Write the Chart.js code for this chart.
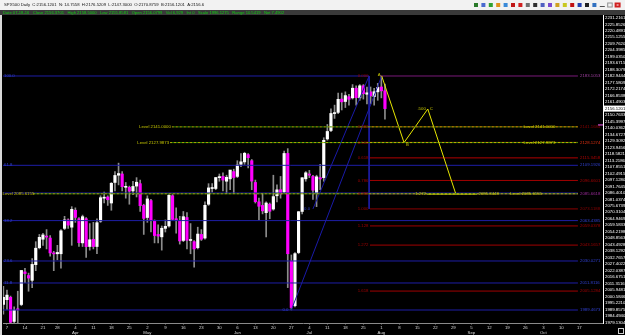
<!DOCTYPE html>
<html>
<head>
<meta charset="utf-8">
<script src="https://cdn.jsdelivr.net/npm/chart.js@4.4.1/dist/chart.umd.min.js"></script>
<style>
  html, body { margin: 0; padding: 0; background: #000; }
  #wrap { width: 625px; height: 335px; }
</style>
</head>
<body>
<div id="wrap"><canvas id="chart" width="625" height="335"></canvas></div>
<script>
// bar index 0 = Mon 7 Mar 2016, first bar (Fri 4 Mar) sits at -1
const firstBar = -1;
const opens = [1994,1998,2000,1980,1990,1994,2021,2018,2014,2027,2041,2048,2050,2049,2036,2036,2036,2057,2064,2058,
  2072,2065,2045,2065,2042,2048,2042,2063,2082,2083,2078,2095,2101,2102,2091,2091,2088,2092,2094,2076,
  2066,2080,2063,2052,2050,2057,2059,2084,2065,2063,2047,2066,2047,2046,2041,2052,2049,2077,2090,2090,
  2099,2100,2096,2098,2104,2100,2110,2112,2118,2113,2095,2079,2076,2070,2077,2073,2084,2089,2087,2119,
  2030,1993,2037,2071,2098,2102,2100,2086,2099,2099,2131,2138,2152,2153,2164,2162,2166,2165,2173,2165,
  2175,2168,2170,2166,2170,2174,2170.9];
const highs = [2009,2006,2001,1992,2005,2022,2024,2020,2032,2046,2052,2053,2056,2051,2038,2043,2056,2067,2065,2075,
  2074,2066,2068,2066,2061,2062,2065,2084,2087,2084,2095,2104,2111,2104,2095,2092,2096,2099,2097,2077,
  2084,2081,2064,2060,2059,2064,2085,2085,2074,2067,2071,2070,2061,2047,2058,2056,2079,2094,2094,2099,
  2102,2103,2101,2105,2106,2113,2119,2120,2119,2114,2097,2082,2086,2079,2078,2101,2093,2100,2121,2123,
  2035,2037,2071,2099,2104,2105,2101,2101,2110,2132,2143,2156,2159,2169,2169,2170,2168,2176,2175,2176,
  2176,2174,2174,2173,2177,2183.1,2176.5];
const lows = [1986,1990,1977,1976,1969,1993,2012,2005,2008,2022,2040,2043,2040,2034,2022,2031,2024,2056,2057,2043,
  2062,2042,2042,2033,2039,2040,2036,2062,2078,2076,2072,2088,2093,2088,2082,2077,2085,2083,2071,2052,
  2062,2054,2045,2045,2039,2054,2058,2064,2053,2044,2046,2040,2036,2025,2040,2047,2048,2076,2087,2089,
  2096,2088,2086,2089,2086,2099,2108,2110,2107,2089,2078,2064,2069,2050,2065,2072,2079,2082,2086,2008,
  1989.5,1992,2036,2069,2096,2099,2081,2075,2089,2096,2130,2137,2148,2152,2155,2157,2159,2164,2159,2163,
  2164,2160,2160,2159,2163,2165,2147.3];
const closes = [2000.0,2001.8,1979.3,1989.3,1989.6,2022.2,2019.6,2015.9,2027.2,2040.6,2049.6,2051.6,2049.8,2036.7,2035.9,2037.1,2055.0,2064.0,2059.7,2072.8,
  2066.1,2045.2,2066.7,2041.9,2047.6,2042.0,2061.7,2082.4,2082.8,2080.7,2094.3,2100.8,2102.4,2091.5,2091.6,2087.8,2091.7,2095.2,2075.8,2065.3,
  2081.4,2063.4,2051.1,2050.6,2057.1,2058.7,2084.4,2064.5,2064.1,2046.6,2066.7,2047.2,2047.6,2040.0,2052.3,2048.0,2076.1,2090.5,2090.1,2099.1,
  2099.5,2097.0,2099.3,2105.3,2099.1,2109.4,2112.1,2119.1,2115.5,2096.1,2079.1,2075.3,2071.5,2078.0,2071.2,2083.3,2088.9,2085.5,2119.0,2036.0,
  1991.5,2036.1,2070.8,2098.9,2103.0,2101.0,2088.6,2099.7,2097.9,2129.9,2137.2,2152.1,2152.4,2163.8,2161.7,2166.9,2163.8,2173.0,2165.2,2175.0,
  2168.5,2169.2,2166.6,2170.1,2173.6,2170.8,2156.1201];

// axis ticks
const xTickIdx = [0,5,10,14,19,24,29,34,39,44,49,54,59,64,69,74,79,84,89,94,99,104,109,114,119,124,129,134,139,144,149,154,159];
const xTickDays = ['7','14','21','28','4','11','18','25','2','9','16','23','30','6','13','20','27','4','11','18','25','1','8','15','22','29','5','12','19','26','3','10','17'];
const xTickMonths = ['','','','','Apr','','','','May','','','','','Jun','','','','Jul','','','','Aug','','','','','Sep','','','','Oct','',''];
const yTickVals = [2231.2161,2225.8526,2220.4891,2215.1255,2209.7620,2204.3985,2199.0350,2193.6715,2188.3079,2182.9444,
  2177.5809,2172.2174,2166.8538,2161.4903,2156.1268,2150.7633,2145.3997,2140.0362,2134.6727,2129.3092,
  2123.9456,2118.5821,2113.2186,2107.8551,2102.4915,2097.1280,2091.7645,2086.4010,2081.0374,2075.6739,
  2070.3104,2064.9469,2059.5833,2054.2198,2048.8563,2043.4928,2038.1292,2032.7657,2027.4022,2022.0387,
  2016.6751,2011.3116,2005.9481,2000.5846,1995.2210,1989.8575,1984.4940,1979.1304];

// drawing objects
const swingHigh = 2183.1053;
const redFibRatios = ['0.382','0.500','0.618','0.786','0.886','1.000','1.128','1.272','1.618'];
const redFibValues = [2141.1684,2128.1274,2115.3458,2096.6601,2085.6618,2073.1188,2059.0378,2043.1657,2005.1284];
const blueFibRatios = ['61.8','50.0','38.2','23.6','11.8','0.0'];
const blueFibValues = [2109.1926,2086.2863,2063.4385,2030.0271,2011.8116,1989.4673];
const levelValues = [2141.0000,2127.9873,2085.6155];
const levelStart = [45.8,45.3,7.2];
const abcdNames = ['A','B','C','D'];
const abcdIdx = [104.1,110.3,116.9,124.7];
const abcdVal = [2183.1053,2127.9873,2155.8,2085.3448];
const projVal = 2085.3448;
const trendFrom = [[79,1989.4673],[85,2073.1188]];
const trendTo = [[104.1,2183.1053],[100.6,2183.1053]];
const anchorIdx = 100.6;
const lastPrice = 2156.1201;

const titleText = 'SPX500 Daily  C:2156.1201  N: 14.7558  H:2176.5209  L:2147.3000  O:2170.8759  B:2156.1201  A:2156.6';
const infoText = 'Date 07-18-16   Close 2156.3701   High 2158.5000   Low 2155.8581   Open 2156.0799   Vol 6,929   Int 0   Scale 1996.1275   Range 10.5419   Net 7.4902';

const X_MIN = -1.1, X_MAX = 165.57, X_END = 158.6, X_LABEL = 159.2, FIB_START = 100.85;
const FONT = '"Liberation Sans", Arial, sans-serif';

const BLUE = '#1e1ea6', RED = '#a00000', YEL = '#c8c800';
const redColors = ['#8b0000','#ff4a10','#b00000','#a00000','#9a2a9a','#8b0000','#a00000','#a00000','#a00000'];

// candles
const wickData = [], bodyData = [], bodyColors = [];
closes.forEach((c, i) => {
  const x = firstBar + i;
  wickData.push({x: x, y: [lows[i], highs[i]]});
  bodyData.push({x: x, y: [opens[i], c]});
  bodyColors.push(c >= opens[i] ? '#ffffff' : '#ff00ff');
});

const seg = (x0, y0, x1, y1, color, extra) => Object.assign({
  type: 'line',
  data: [{x: x0, y: y0}, {x: x1, y: y1}],
  borderColor: color, borderWidth: 1, pointRadius: 0, fill: false, tension: 0, order: 1
}, extra || {});

const datasets = [];
// blue retracement (low -> high), full width
datasets.push(seg(X_MIN, swingHigh, anchorIdx, swingHigh, BLUE));
blueFibValues.forEach(v => datasets.push(seg(X_MIN, v, X_END, v, BLUE)));
// red expansion levels
datasets.push(seg(103.6, swingHigh, X_END, swingHigh, '#7a1a7a'));
redFibValues.forEach((v, i) => datasets.push(seg(FIB_START, v, X_END, v, redColors[i])));
// dotted "Level" lines
levelValues.forEach((v, i) => {
  datasets.push(seg(levelStart[i], v, X_END, v, '#b4b400', {borderDash: [2, 2], order: 0}));
  datasets.push(seg(levelStart[i], v, X_END, v, '#2f8a00', {borderDash: [2, 2], borderDashOffset: 2, order: 0}));
});
// trend lines and anchor
trendFrom.forEach((p, i) => datasets.push(seg(p[0], p[1], trendTo[i][0], trendTo[i][1], '#1a1aa8')));
datasets.push(seg(anchorIdx, swingHigh, anchorIdx, redFibValues[5], BLUE));
// ABCD zigzag + projection
datasets.push({
  type: 'line', data: abcdIdx.map((x, i) => ({x: x, y: abcdVal[i]})),
  borderColor: '#e8e800', borderWidth: 1, pointRadius: 0, fill: false, tension: 0, order: 0
});
datasets.push(seg(116.6, projVal, 130.6, projVal, '#e8e800', {order: 0}));
// candles
datasets.push({type: 'bar', data: bodyData, backgroundColor: bodyColors, barThickness: 2.5,
  minBarLength: 1, grouped: false, borderWidth: 0, order: 2});
datasets.push({type: 'bar', data: wickData, backgroundColor: '#8c8c8c', barThickness: 1,
  grouped: false, borderWidth: 0, order: 3});

function fitText(ctx, s, x, y, w, color) {
  ctx.font = '10px ' + FONT;
  const size = 10 * w / ctx.measureText(s).width;
  ctx.font = size.toFixed(2) + 'px ' + FONT;
  ctx.fillStyle = color;
  ctx.textAlign = 'left';
  ctx.textBaseline = 'middle';
  ctx.fillText(s, x, y);
}

function txt(ctx, s, x, y, color, align) {
  ctx.font = '4.3px ' + FONT;
  ctx.fillStyle = color;
  ctx.textAlign = align || 'left';
  ctx.textBaseline = 'middle';
  ctx.fillText(s, x, y);
}

const overlay = {
  id: 'overlay',
  beforeDraw(chart) {
    const ctx = chart.ctx;
    ctx.save();
    ctx.fillStyle = '#000';
    ctx.fillRect(0, 0, chart.width, chart.height);
    // window caption
    ctx.fillStyle = '#f2f2f2';
    ctx.fillRect(0, 0, chart.width, 10);
    fitText(ctx, titleText, 4, 5.2, 201, '#111');
    const icons = ['#2a7a2a','#4a6ad0','#30a030','#e0901a','#3a8ad8','#c01818','#d02020','#707070','#303030',
      '#5060c0','#7a4ad0','#d0a020','#c8c820','#c01010','#2040b0','#202020','#3070c0','#505050','#909090','#d02020'];
    icons.forEach((c, i) => {
      const x = 474 + i * 7.4;
      ctx.fillStyle = c;
      if (i === 17) ctx.fillRect(x, 6, 5, 1);
      else if (i === 19) { ctx.fillRect(x, 2.5, 6, 5); ctx.fillStyle = '#fff'; ctx.fillRect(x + 2, 4.5, 2, 1); }
      else if (i === 18) { ctx.strokeStyle = c; ctx.strokeRect(x + 0.5, 3, 4.5, 4); }
      else ctx.fillRect(x, 3, 4, 4);
    });
    // data window strip
    ctx.fillStyle = '#3a3a3a';
    ctx.fillRect(0, 10, chart.width, 5);
    fitText(ctx, infoText, 3, 12.6, 282, '#10d010');
    // frame
    ctx.fillStyle = '#d8d8d8';
    ctx.fillRect(0, 15, 2, chart.height - 15);
    ctx.restore();
  },
  afterDraw(chart) {
    const ctx = chart.ctx, xs = chart.scales.x, ys = chart.scales.y;
    const px = v => xs.getPixelForValue(v), py = v => ys.getPixelForValue(v);
    ctx.save();
    const lx = px(X_LABEL);
    // right-hand price tags of the lines
    txt(ctx, swingHigh.toFixed(4), lx, py(swingHigh), '#a040a0');
    redFibValues.forEach((v, i) => txt(ctx, v.toFixed(4), lx, py(v), redColors[i] === '#ff4a10' ? '#e03010' : redColors[i]));
    blueFibValues.forEach((v, i) => { if (i !== 1) txt(ctx, v.toFixed(4), lx, py(v), '#3040d0'); });
    // ratio tags
    const fx = px(FIB_START) - 1.5;
    txt(ctx, '0.000', fx, py(swingHigh), RED, 'right');
    redFibValues.forEach((v, i) => txt(ctx, redFibRatios[i], fx, py(v), RED, 'right'));
    txt(ctx, '100.0', 4, py(swingHigh), '#3040d0');
    [0, 2, 3, 4].forEach(i => txt(ctx, blueFibRatios[i], 4, py(blueFibValues[i]), '#3040d0'));
    txt(ctx, blueFibRatios[5], px(78.2), py(blueFibValues[5]), '#3040d0', 'right');
    txt(ctx, '0.0', px(84.2), py(trendFrom[1][1]), '#3040d0', 'right');
    // level captions
    levelValues.forEach((v, i) => {
      const s = 'Level ' + v.toFixed(4);
      if (i < 2) txt(ctx, s, px(levelStart[i]) - 1, py(v), YEL, 'right');
      else txt(ctx, s, 2.5, py(v), YEL);
      txt(ctx, s, px(i < 2 ? 143.5 : 139.8), py(v), YEL);
    });
    // ABCD captions
    txt(ctx, abcdNames[0], px(abcdIdx[0]) - 4, py(abcdVal[0]) - 1.5, YEL);
    txt(ctx, abcdNames[1], px(abcdIdx[1]) + 2, py(abcdVal[1]) + 2, YEL);
    txt(ctx, '.500', px(abcdIdx[2]) - 2, py(abcdVal[2]), YEL, 'right');
    txt(ctx, abcdNames[2], px(abcdIdx[2]) + 2, py(abcdVal[2]), YEL);
    txt(ctx, '1.272', px(116.4), py(projVal), YEL, 'right');
    txt(ctx, projVal.toFixed(4), px(131), py(projVal), YEL);
    // current price tag on the axis
    const cy = py(lastPrice);
    ctx.fillStyle = '#ffffff';
    ctx.fillRect(604, cy - 3, 21, 6);
    txt(ctx, lastPrice.toFixed(4), 605, cy, '#000');
    ctx.beginPath();
    ctx.moveTo(596, cy - 2); ctx.lineTo(600, cy - 2); ctx.lineTo(602, cy); ctx.lineTo(600, cy + 2); ctx.lineTo(596, cy + 2);
    ctx.closePath();
    ctx.fill();
    ctx.fillStyle = '#ff60ff';
    ctx.fillRect(598, py(2142.6) - 0.5, 5, 1);
    ctx.strokeStyle = '#cfcfcf';
    ctx.strokeRect(618.5, 328.5, 5, 5);
    ctx.restore();
  }
};

new Chart(document.getElementById('chart').getContext('2d'), {
  type: 'bar',
  data: { datasets: datasets },
  options: {
    responsive: false,
    animation: false,
    events: [],
    layout: { padding: { left: 3, top: 15, right: 0, bottom: 0 } },
    plugins: { legend: { display: false }, tooltip: { enabled: false } },
    scales: {
      x: {
        type: 'linear', min: X_MIN, max: X_MAX, offset: false,
        grid: { display: true, drawOnChartArea: false, drawTicks: true, tickLength: 1.5, color: '#8a8a8a', offset: false },
        border: { display: true, color: '#8a8a8a', width: 1 },
        afterBuildTicks: s => { s.ticks = xTickIdx.map(v => ({ value: v })); },
        afterFit: s => { s.height = 12; },
        ticks: {
          autoSkip: false, maxRotation: 0, padding: 0.5, color: '#d8d8d8',
          font: { size: 4.3, family: FONT }, lineHeight: 1.1,
          callback: v => {
            const k = xTickIdx.indexOf(v);
            return xTickMonths[k] ? [xTickDays[k], xTickMonths[k]] : xTickDays[k];
          }
        }
      },
      y: {
        type: 'linear', position: 'right', min: 1978.71, max: 2233.58,
        grid: { display: false, drawTicks: false },
        border: { display: true, color: '#ffffff', width: 1, dash: [1, 1] },
        afterBuildTicks: s => { s.ticks = yTickVals.map(v => ({ value: v })); },
        afterFit: s => { s.width = 22; },
        ticks: {
          autoSkip: false, padding: 2, color: '#ffffff',
          font: { size: 4.3, family: FONT },
          callback: v => v.toFixed(4)
        }
      }
    }
  },
  plugins: [overlay]
});
</script>
</body>
</html>
